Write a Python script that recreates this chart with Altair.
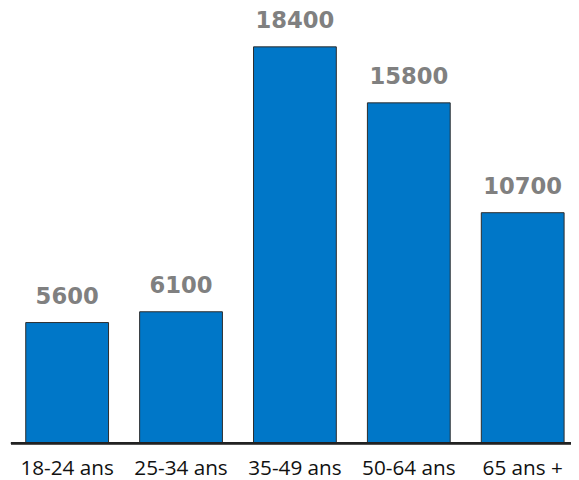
import altair as alt
import pandas as pd

categories = ["18-24 ans", "25-34 ans", "35-49 ans", "50-64 ans", "65 ans +"]
values = [5600, 6100, 18400, 15800, 10700]

df = pd.DataFrame({"cat": categories, "val": values})

x = alt.X("cat:N", sort=categories, title=None,
          scale=alt.Scale(paddingInner=0.273, paddingOuter=0.0606),
          axis=alt.Axis(labelAngle=0, ticks=False, tickSize=0, domain=False,
                        labelFont="Open Sans", labelFontSize=21,
                        labelColor="#111111", labelPadding=15))
y = alt.Y("val:Q", scale=alt.Scale(domain=[0, 20050], nice=False), axis=None)

base = alt.Chart(df)
bars = base.mark_bar(color="#0077C8", stroke="#2b2b2b", strokeWidth=1).encode(x=x, y=y)
labels = base.mark_text(font="DejaVu Sans", fontWeight="bold", fontSize=23, color="#808080",
                        baseline="bottom", dy=-14).encode(x=x, y=y, text="val:Q")
baseline = base.mark_rule(color="#222222", strokeWidth=2).encode(
    x=alt.value(-8), x2=alt.value(560), y=alt.datum(0))

chart = (bars + labels + baseline).properties(
    width=560, height=438,
    padding={"left": 11, "top": 0, "right": 0, "bottom": 34},
    autosize=alt.AutoSizeParams(type="none"),
).configure_view(stroke=None)

chart.save("out.html", embed_options={"renderer": "svg", "actions": False})
